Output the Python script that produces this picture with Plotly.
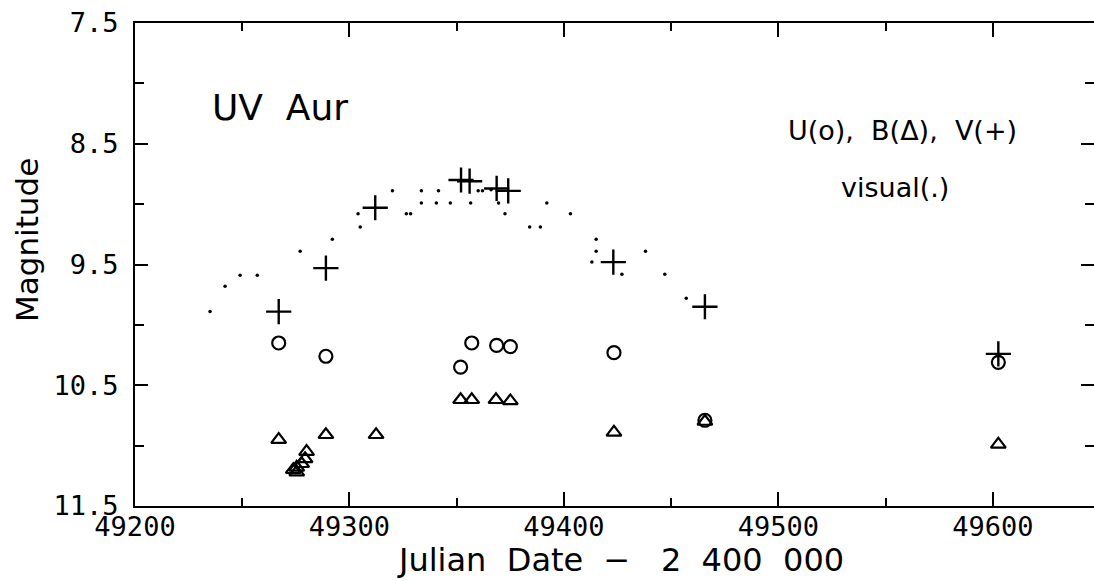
import plotly.graph_objects as go

# V (+)
v_jd = [49267, 49289, 49312, 49352, 49356, 49368.6, 49374, 49423, 49465.7, 49602.5]
v_mag = [9.89, 9.53, 9.03, 8.80, 8.81, 8.87, 8.89, 9.48, 9.85, 10.24]
# U (o)
u_jd = [49267, 49289, 49351.8, 49357, 49368.6, 49375, 49423.3, 49465.7, 49602.5]
u_mag = [10.15, 10.26, 10.35, 10.15, 10.17, 10.18, 10.23, 10.79, 10.31]
# B (triangle)
b_jd = [49267, 49273.8, 49275.4, 49275.4, 49277.7, 49279.3, 49280, 49289, 49312.4,
        49351.8, 49357, 49368.3, 49375, 49423.3, 49465.7, 49602.5]
b_mag = [10.95, 11.20, 11.18, 11.22, 11.15, 11.11, 11.05, 10.91, 10.91,
         10.62, 10.62, 10.62, 10.63, 10.89, 10.80, 10.99]
# visual (.)
vis_jd = [49235, 49242, 49249, 49257, 49277, 49292, 49304, 49305, 49320, 49326.5,
          49328.5, 49333.5, 49333.5, 49340.5, 49341.5, 49347, 49356.5, 49360, 49362,
          49366, 49369.5, 49372.5, 49384, 49389, 49392, 49403, 49413, 49415, 49415,
          49427, 49438, 49447, 49457]
vis_mag = [9.89, 9.68, 9.59, 9.59, 9.39, 9.29, 9.08, 9.19, 8.89, 9.08,
           9.08, 8.89, 8.99, 8.99, 8.89, 8.99, 8.99, 8.89, 8.89,
           8.88, 8.99, 9.08, 9.19, 9.19, 8.99, 9.08, 9.48, 9.29, 9.39,
           9.58, 9.39, 9.58, 9.78]

x_range = [49200, 49647.1]
y_range = [11.5, 7.5]
x_major = [49200, 49300, 49400, 49500, 49600]
y_major = [7.5, 8.5, 9.5, 10.5, 11.5]
y_labels = ["7.5", "8.5", "9.5", "10.5", "11.5"]

TICKFONT = dict(family="DejaVu Sans Mono", size=27, color="black")
TEXTFONT = "DejaVu Sans"

# pixel geometry of the plotting frame (for text placement in paper coords)
L, R, T, B = 135, 1094, 23, 506
def px(x):
    return (x - L) / (R - L)
def py(y):
    return (B - y) / (B - T)

fig = go.Figure()
fig.add_trace(go.Scatter(x=vis_jd, y=vis_mag, mode="markers",
                         marker=dict(symbol="circle", size=3.5, color="black"),
                         name="visual"))
fig.add_trace(go.Scatter(x=b_jd, y=b_mag, mode="markers",
                         marker=dict(symbol="triangle-up-open", size=13, color="black",
                                     line=dict(width=2.2, color="black")),
                         name="B"))
fig.add_trace(go.Scatter(x=u_jd, y=u_mag, mode="markers",
                         marker=dict(symbol="circle-open", size=13, color="black",
                                     line=dict(width=2.2, color="black")),
                         name="U"))
fig.add_trace(go.Scatter(x=v_jd, y=v_mag, mode="markers",
                         marker=dict(symbol="cross-thin-open", size=18, color="black",
                                     line=dict(width=2.4, color="black")),
                         name="V"))
# invisible trace to bind the right-side tick axis
fig.add_trace(go.Scatter(x=[x_range[0]], y=[y_range[0]], yaxis="y2", mode="markers",
                         marker=dict(opacity=0), hoverinfo="skip", showlegend=False))

fig.update_layout(
    width=1094, height=581,
    margin=dict(l=L, r=1094 - R, t=T, b=581 - B),
    paper_bgcolor="white", plot_bgcolor="white",
    showlegend=False,
    xaxis=dict(
        range=x_range, showgrid=False, zeroline=False,
        showline=True, linecolor="black", linewidth=2, mirror="ticks",
        ticks="inside", ticklen=14, tickwidth=2, tickcolor="black",
        tickvals=x_major, ticktext=[str(v) for v in x_major],
        minor=dict(dtick=50, tick0=49200, ticks="inside", ticklen=8, tickwidth=2,
                   tickcolor="black", showgrid=False),
        tickfont=TICKFONT, ticklabelstandoff=-4,
    ),
    yaxis=dict(
        range=y_range, showgrid=False, zeroline=False,
        showline=True, linecolor="black", linewidth=2, mirror=False,
        ticks="inside", ticklen=13, tickwidth=2, tickcolor="black",
        tickvals=y_major, ticktext=y_labels,
        minor=dict(dtick=0.5, tick0=7.5, ticks="inside", ticklen=9, tickwidth=2,
                   tickcolor="black", showgrid=False),
        tickfont=TICKFONT, ticklabelstandoff=9,
    ),
    yaxis2=dict(
        range=y_range, overlaying="y", side="right", showgrid=False, zeroline=False,
        showline=False, showticklabels=False,
        ticks="inside", ticklen=13, tickwidth=2, tickcolor="black",
        tickvals=y_major,
        minor=dict(dtick=0.5, tick0=7.5, ticks="inside", ticklen=9, tickwidth=2,
                   tickcolor="black", showgrid=False),
    ),
    annotations=[
        dict(text="Julian\u00a0\u00a0Date\u00a0\u00a0\u2212\u00a0\u00a0\u00a02\u00a0\u00a0400\u00a0\u00a0000",
             xref="paper", yref="paper", x=px(620), y=py(560),
             xanchor="center", yanchor="middle", showarrow=False,
             font=dict(family=TEXTFONT, size=32, color="black")),
        dict(text="Magnitude", xref="paper", yref="paper", x=px(27), y=py(240),
             xanchor="center", yanchor="middle", textangle=-90, showarrow=False,
             font=dict(family=TEXTFONT, size=31, color="black")),
        dict(text="UV\u00a0\u00a0Aur", xref="paper", yref="paper", x=px(210), y=py(107),
             xanchor="left", yanchor="middle", showarrow=False,
             font=dict(family=TEXTFONT, size=36, color="black")),
        dict(text="U(o),\u00a0\u00a0B(\u0394),\u00a0\u00a0V(+)", xref="paper", yref="paper",
             x=px(902.5), y=py(130), xanchor="center", yanchor="middle",
             showarrow=False, font=dict(family=TEXTFONT, size=27, color="black")),
        dict(text="visual(.)", xref="paper", yref="paper",
             x=px(895), y=py(187), xanchor="center", yanchor="middle",
             showarrow=False, font=dict(family=TEXTFONT, size=27, color="black")),
    ],
)

fig.write_html("out.html")
